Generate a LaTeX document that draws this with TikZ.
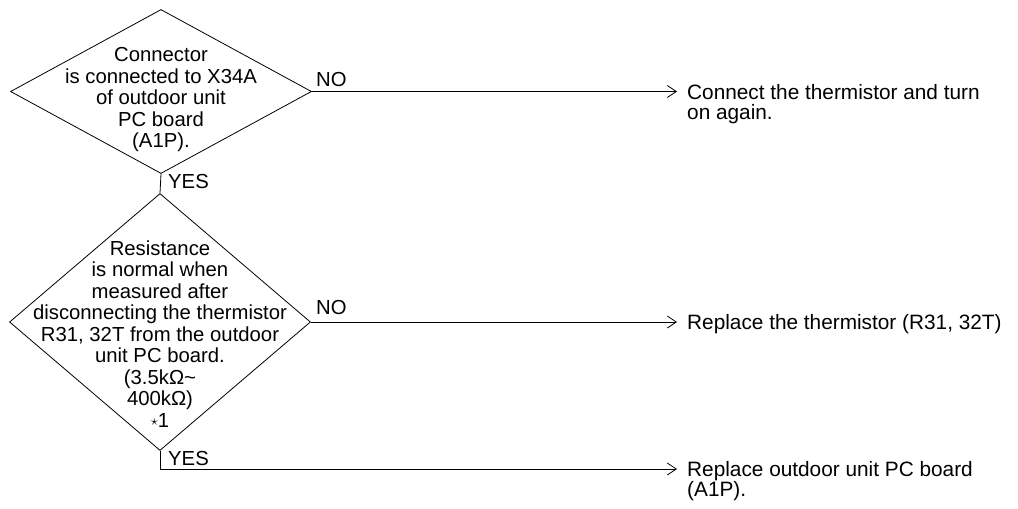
\documentclass[tikz,border=0pt]{standalone}
\usepackage{fontspec}
\setmainfont{Liberation Sans}
\usetikzlibrary{shapes.geometric,arrows.meta}
\begin{document}
\begin{tikzpicture}[x=1pt,y=-1pt,
  dia/.style={draw,shape=diamond,inner sep=0pt,line width=0.8pt},
  txt/.style={font=\fontsize{20.3}{21.5}\selectfont,align=center,inner sep=0pt},
  lbl/.style={font=\fontsize{20.3}{21.5}\selectfont,inner sep=0pt,anchor=base west},
  res/.style={font=\fontsize{20.8}{20}\selectfont,align=left,inner sep=0pt,anchor=base west},
  arr/.style={line width=0.8pt,-{Straight Barb[length=9pt,width=12pt,line width=0.8pt]}},
  ln/.style={line width=0.8pt}]
\useasboundingbox (0,0) rectangle (1018,509);
\node[dia,minimum width=301pt,minimum height=164pt] (d1) at (161,91.5) {};
\node[txt] (q1) at (161,100) {Connector\\is connected to X34A\\of outdoor unit\\PC board\\(A1P).};
\node[dia,minimum width=301pt,minimum height=257pt] (d2) at (160,322) {};
\node[txt] (q2) at (160,334) {Resistance\\is normal when\\measured after\\disconnecting the thermistor\\R31, 32T from the outdoor\\unit PC board.\\(3.5kΩ\textasciitilde\\400kΩ)\\\raisebox{1.5pt}{\fontsize{15}{15}\selectfont$\star$}1};
\coordinate (a1) at (677,91.5);
\coordinate (a2) at (677,322);
\coordinate (a3) at (677,469);
\node[res,xshift=10pt,yshift=-27.5pt] (t1) at (a1) {Connect the thermistor and turn\\on again.};
\node[res,xshift=10pt,yshift=-7.5pt] (t2) at (a2) {Replace the thermistor (R31, 32T)};
\node[res,xshift=10pt,yshift=-27.5pt] (t3) at (a3) {Replace outdoor unit PC board\\(A1P).};
\draw[arr] (d1.east) -- (a1);
\draw[arr] (d2.east) -- (a2);
\draw[ln] (d1.south) -- (d2.north);
\draw[arr] (d2.south) |- (a3);
\node[lbl] (n1) at (316,86) {NO};
\node[lbl] (n2) at (316,314) {NO};
\node[lbl] (y1) at (168,188.5) {YES};
\node[lbl] (y2) at (168,465) {YES};
\end{tikzpicture}
\end{document}
